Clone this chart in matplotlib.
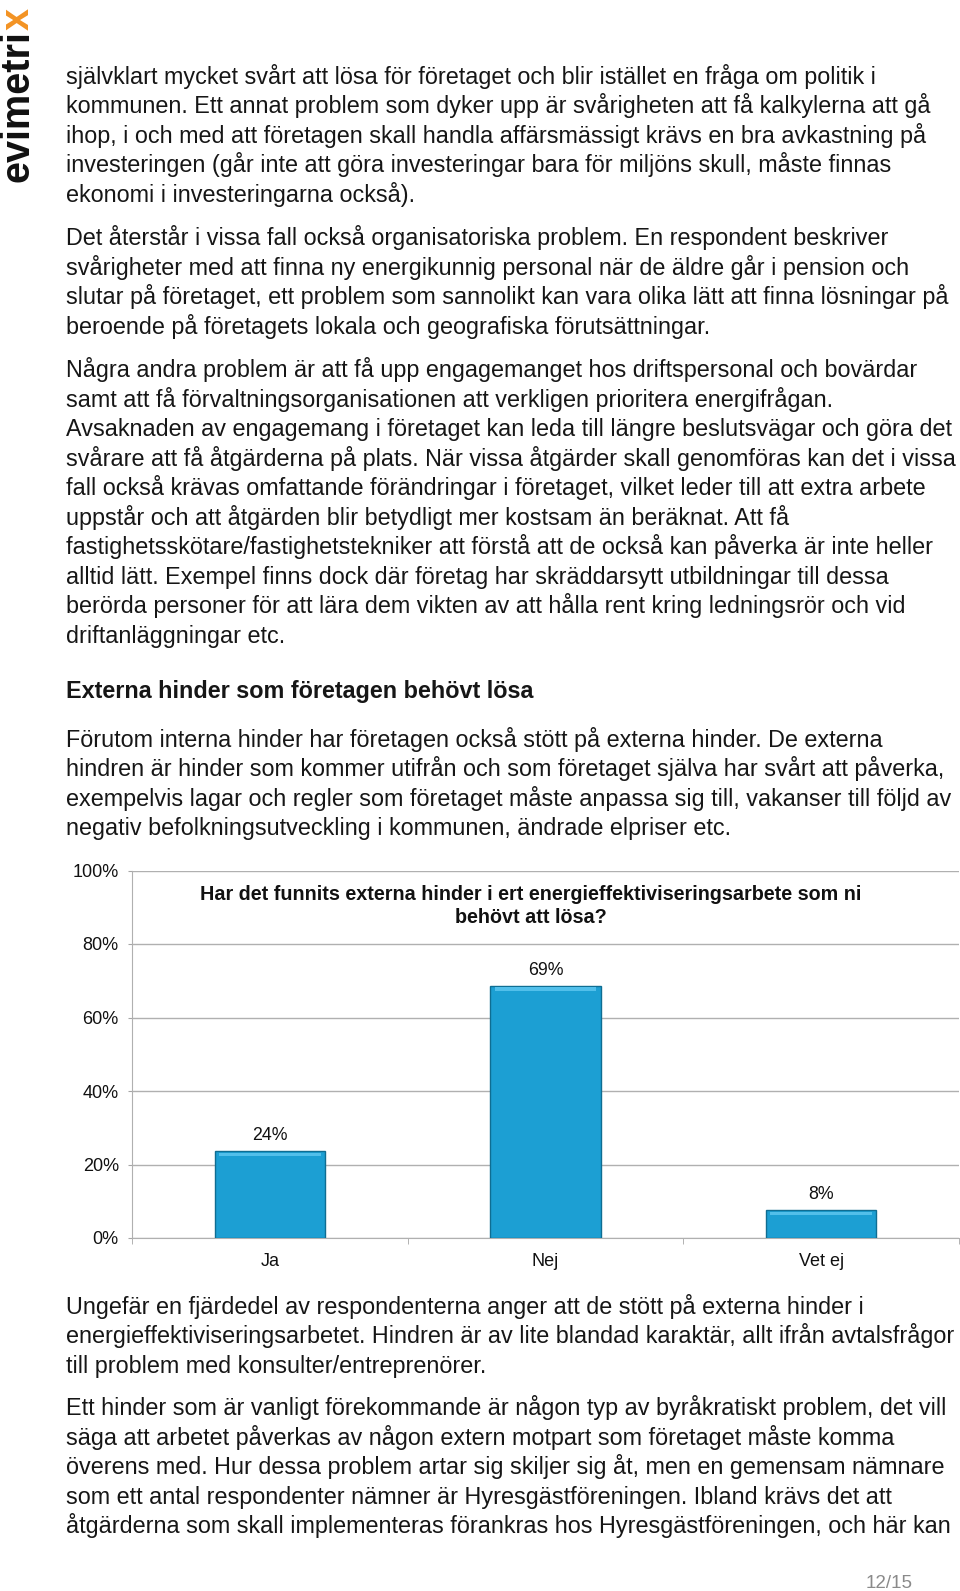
import matplotlib
matplotlib.use('Agg')
import matplotlib.pyplot as plt

W, H = 960, 1591
plt.rcParams['font.family'] = ['Liberation Sans', 'DejaVu Sans']

# data for the bar chart
categories = ['Ja', 'Nej', 'Vet ej']
shares = [23.6, 68.6, 7.6]
y_ticks = [0, 20, 40, 60, 80, 100]
y_tick_labels = ['0%', '20%', '40%', '60%', '80%', '100%']
chart_title = ['Har det funnits externa hinder i ert energieffektiviseringsarbete som ni',
               'behövt att lösa?']

# page text: (baseline of first line in px, lines, bold)
paragraphs = [
    (84, ['självklart mycket svårt att lösa för företaget och blir istället en fråga om politik i',
          'kommunen. Ett annat problem som dyker upp är svårigheten att få kalkylerna att gå',
          'ihop, i och med att företagen skall handla affärsmässigt krävs en bra avkastning på',
          'investeringen (går inte att göra investeringar bara för miljöns skull, måste finnas',
          'ekonomi i investeringarna också).'], False),
    (245.5, ['Det återstår i vissa fall också organisatoriska problem. En respondent beskriver',
             'svårigheter med att finna ny energikunnig personal när de äldre går i pension och',
             'slutar på företaget, ett problem som sannolikt kan vara olika lätt att finna lösningar på',
             'beroende på företagets lokala och geografiska förutsättningar.'], False),
    (377.5, ['Några andra problem är att få upp engagemanget hos driftspersonal och bovärdar',
             'samt att få förvaltningsorganisationen att verkligen prioritera energifrågan.',
             'Avsaknaden av engagemang i företaget kan leda till längre beslutsvägar och göra det',
             'svårare att få åtgärderna på plats. När vissa åtgärder skall genomföras kan det i vissa',
             'fall också krävas omfattande förändringar i företaget, vilket leder till att extra arbete',
             'uppstår och att åtgärden blir betydligt mer kostsam än beräknat. Att få',
             'fastighetsskötare/fastighetstekniker att förstå att de också kan påverka är inte heller',
             'alltid lätt. Exempel finns dock där företag har skräddarsytt utbildningar till dessa',
             'berörda personer för att lära dem vikten av att hålla rent kring ledningsrör och vid',
             'driftanläggningar etc.'], False),
    (698, ['Externa hinder som företagen behövt lösa'], True),
    (747, ['Förutom interna hinder har företagen också stött på externa hinder. De externa',
           'hindren är hinder som kommer utifrån och som företaget själva har svårt att påverka,',
           'exempelvis lagar och regler som företaget måste anpassa sig till, vakanser till följd av',
           'negativ befolkningsutveckling i kommunen, ändrade elpriser etc.'], False),
    (1314, ['Ungefär en fjärdedel av respondenterna anger att de stött på externa hinder i',
            'energieffektiviseringsarbetet. Hindren är av lite blandad karaktär, allt ifrån avtalsfrågor',
            'till problem med konsulter/entreprenörer.'], False),
    (1415.5, ['Ett hinder som är vanligt förekommande är någon typ av byråkratiskt problem, det vill',
              'säga att arbetet påverkas av någon extern motpart som företaget måste komma',
              'överens med. Hur dessa problem artar sig skiljer sig åt, men en gemensam nämnare',
              'som ett antal respondenter nämner är Hyresgästföreningen. Ibland krävs det att',
              'åtgärderna som skall implementeras förankras hos Hyresgästföreningen, och här kan'], False),
]
line_step = 29.45

fig = plt.figure(figsize=(W / 100, H / 100), dpi=100)


def put(x, y, s, **kw):
    return fig.text(x / W, 1 - y / H, s, **kw)


# logo, written bottom to top
logo = put(28.5, 182, 'evimetri', rotation=90, rotation_mode='anchor', ha='left', va='baseline',
           fontsize=28.5, fontweight='bold', color='#111111')
fig.canvas.draw()
bb = logo.get_window_extent(renderer=fig.canvas.get_renderer())
put(28.5, H - bb.y1, 'x', rotation=90, rotation_mode='anchor', ha='left', va='baseline',
    fontsize=28.5, fontweight='bold', color='#f39323')

# body text
for y0, lines, bold in paragraphs:
    for i, line in enumerate(lines):
        put(66, y0 + i * line_step, line, fontsize=16.8, va='baseline', ha='left',
            color='#161616', fontweight='bold' if bold else 'normal')

# chart
ax = fig.add_axes([132 / W, 1 - 1238 / H, 827 / W, 367.5 / H])
x = range(len(categories))
ax.bar(x, shares, width=0.4, color='#1c9fd3', edgecolor='#0f6d92', linewidth=1.0, zorder=3)
ax.bar(x, [1.0] * len(shares), bottom=[s - 1.4 for s in shares], width=0.37,
       color='#52bfea', linewidth=0, zorder=4)
for i, v in enumerate(shares):
    ax.annotate(f'{v:.0f}%', (i, v), xytext=(0, 11), textcoords='offset points',
                ha='center', va='center', fontsize=12.8, color='#111111')

ax.set_xlim(-0.5, 2.5)
ax.set_ylim(0, 100)
ax.set_yticks(y_ticks)
ax.set_yticklabels(y_tick_labels)
ax.set_xticks(list(x))
ax.set_xticklabels(categories)
ax.set_xticks([-0.5, 0.5, 1.5, 2.5], minor=True)
ax.tick_params(axis='y', length=3, color='#a6a6a6', pad=6.5, labelsize=13, labelcolor='#111111')
ax.tick_params(axis='x', which='major', length=0, pad=11, labelsize=13, labelcolor='#111111')
ax.tick_params(axis='x', which='minor', length=4, color='#a6a6a6')
ax.grid(axis='y', color='#b0b0b0', linewidth=1.0, zorder=0)
for side in ['top', 'right']:
    ax.spines[side].set_visible(False)
for side in ['left', 'bottom']:
    ax.spines[side].set_color('#b0b0b0')
ax.set_facecolor('none')

put(531, 894, chart_title[0], ha='center', va='center', fontsize=14.2, fontweight='bold', color='#111111')
put(531, 917.5, chart_title[1], ha='center', va='center', fontsize=14.2, fontweight='bold', color='#111111')

# page number
put(889, 1583, '12/15', ha='center', va='center', fontsize=13.5, color='#8a8a8a')

fig.savefig('out.png', dpi=100)
